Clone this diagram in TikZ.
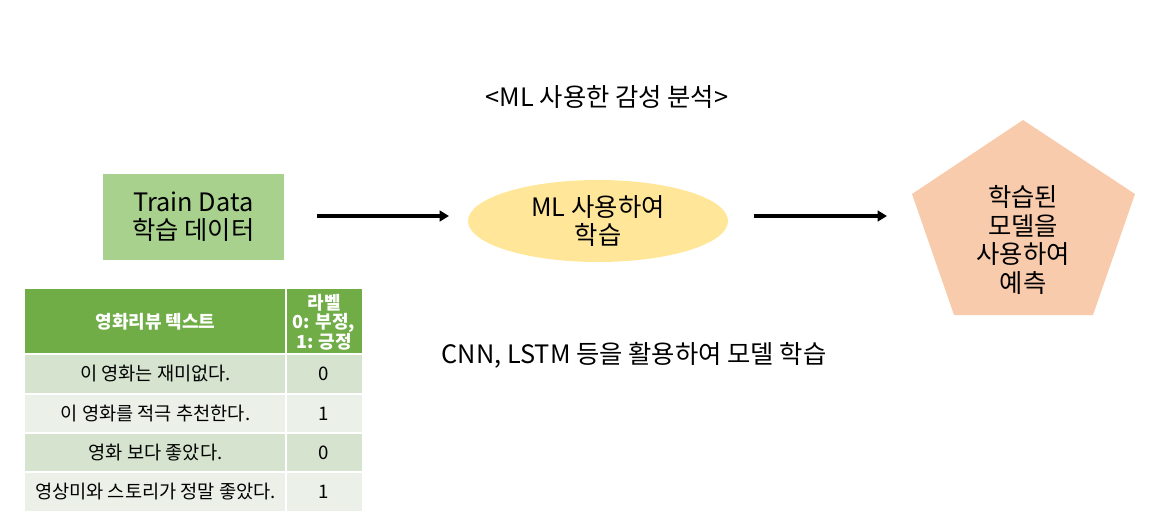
\documentclass[tikz,border=0pt]{standalone}
\usepackage{fontspec}
\setmainfont{Noto Sans CJK KR}
\usepackage{xcolor}
\usepackage{tikz}
\usetikzlibrary{
  arrows.meta,
  calc,
  positioning,
  shapes.geometric
}
\definecolor{traingreen}{RGB}{169,209,142}
\definecolor{mlyellow}{RGB}{255,230,153}
\definecolor{predorange}{RGB}{248,203,173}
\definecolor{headgreen}{RGB}{112,173,71}
\definecolor{rowdark}{RGB}{213,227,207}
\definecolor{rowlight}{RGB}{235,241,233}

\begin{document}
\begin{tikzpicture}[x=0.75pt, y=-0.75pt,
  font=\fontsize{19}{21}\selectfont,
  flow/.style={line width=2.3pt, -{Triangle[length=7pt,width=8pt]}},
  cell/.style={font=\fontsize{14}{14.5}\selectfont, align=center},
  headcell/.style={cell, text=white, font=\fontsize{13.5}{14.6}\selectfont\bfseries}]
  \useasboundingbox (0,0) rectangle (1166,519);
  % Title
  \node (title) at (607,97) {<ML 사용한 감성 분석>};
  % Pipeline
  \node[fill=traingreen, minimum width=135.75pt, minimum height=64.5pt, align=center]
    (train) at (193.5,217) {Train Data\\학습 데이터};
  \node[ellipse, fill=mlyellow, inner sep=0pt, minimum width=195pt, minimum height=61.5pt, align=center]
    (ml) at (598,221) {ML 사용하여\\학습};
  \fill[predorange] (1023,120) -- (1135,194) -- (1093,315) -- (954,315) -- (912,194) -- cycle;
  \node[align=center, font=\fontsize{19}{21.4}\selectfont] (pred) at (1023,240) {학습된\\모델을\\사용하여\\예측};
  \coordinate (a1s) at (317,216);
  \coordinate (a1e) at (449,216);
  \coordinate (a2s) at (754,216);
  \coordinate (a2e) at (887,216);
  \draw[flow] (a1s) -- (a1e);
  \draw[flow] (a2s) -- (a2e);
  \node (cnn) at (634,355) {CNN, LSTM 등을 활용하여 모델 학습};
  % Table
  \fill[headgreen] (25,289) rectangle (362,354);
  \fill[rowdark] (25,354) rectangle (362,394);
  \fill[rowlight] (25,394) rectangle (362,433);
  \fill[rowdark] (25,433) rectangle (362,472);
  \fill[rowlight] (25,472) rectangle (362,511);
  \foreach \y in {354,394,433,472}
    \draw[white, line width=1.5pt] (25,\y) -- (362,\y);
  \draw[white, line width=1.5pt] (286,289) -- (286,511);
  \node[headcell] (h1) at (155.5,322) {영화리뷰 텍스트};
  \node[headcell] (h2) at (324,322) {라벨\\0: 부정,\\1: 긍정};
  \node[cell] (r1) at (155.5,374) {이 영화는 재미없다.};
  \node[cell] (l1) at (324,374) {0};
  \node[cell] (r2) at (155.5,413.5) {이 영화를 적극 추천한다.};
  \node[cell] (l2) at (324,413.5) {1};
  \node[cell] (r3) at (155.5,452.5) {영화 보다 좋았다.};
  \node[cell] (l3) at (324,452.5) {0};
  \node[cell] (r4) at (155.5,491.5) {영상미와 스토리가 정말 좋았다.};
  \node[cell] (l4) at (324,491.5) {1};
\end{tikzpicture}
\end{document}
